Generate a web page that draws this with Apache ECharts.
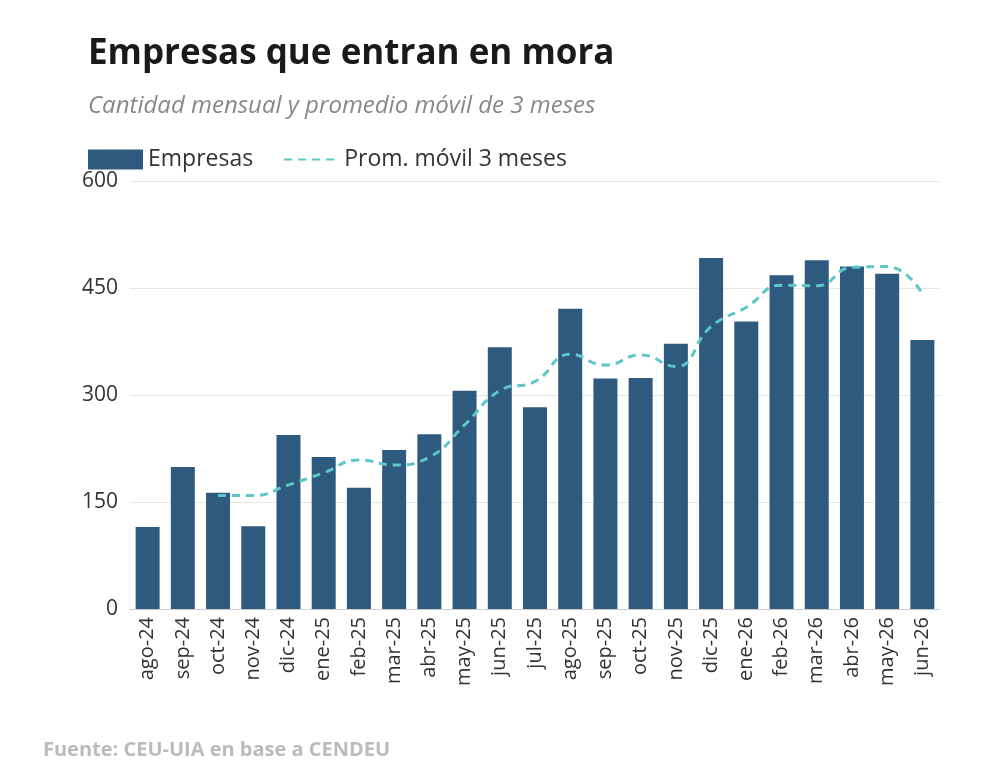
<!DOCTYPE html>
<html><head><meta charset="utf-8">
<script src="https://cdn.jsdelivr.net/npm/echarts@6/dist/echarts.min.js"></script>
<style>html,body{margin:0;background:#fff}#chart{width:992px;height:780px}</style>
</head><body><div id="chart"></div>
<script>
var meses = ["ago-24","sep-24","oct-24","nov-24","dic-24","ene-25","feb-25","mar-25","abr-25","may-25","jun-25","jul-25","ago-25","sep-25","oct-25","nov-25","dic-25","ene-26","feb-26","mar-26","abr-26","may-26","jun-26"];
var empresas = [115,199,163,116,244,213,170,223,245,306,367,283,421,323,324,372,492,403,468,489,480,470,377];
var promedio = [null,null,159,159,174,191,209,202,213,258,306,319,357,342,356,340,396,423,454,453,479,480,442];
var yTicks = [0,150,300,450,600];

var chart = echarts.init(document.getElementById("chart"));
var font = "Open Sans";
chart.setOption({
  textStyle: {fontFamily: font},
  title: [
    {text: "Empresas que entran en mora", left: 83, top: 32,
     textStyle: {fontSize: 35, fontWeight: "bold", color: "#1a1a1a", fontFamily: font}},
    {text: "Cantidad mensual y promedio móvil de 3 meses", left: 83, top: 89,
     textStyle: {fontSize: 24, fontStyle: "italic", fontWeight: "normal", color: "#888", fontFamily: font}},
    {text: "Fuente: CEU-UIA en base a CENDEU", left: 38, top: 735,
     textStyle: {fontSize: 20, fontWeight: "bold", color: "#bbb", fontFamily: font}}
  ],
  legend: {left: 83, top: 143, itemGap: 30, itemWidth: 55, itemHeight: 20,
    textStyle: {fontSize: 23, color: "#333"},
    data: [{name: "Empresas", icon: "rect"},
           {name: "Prom. móvil 3 meses", itemStyle: {opacity: 0}}]},
  grid: {left: 130, right: 52, top: 181, bottom: 171},
  xAxis: {type: "category", data: meses,
    axisTick: {show: false}, axisLine: {lineStyle: {color: "#ccc"}},
    axisLabel: {rotate: 90, fontSize: 20, color: "#333", interval: 0}},
  yAxis: {type: "value", min: 0, max: 600, interval: 150,
    axisLabel: {fontSize: 21, color: "#333", margin: 12,
      formatter: function (v) { return yTicks.indexOf(v) >= 0 ? v : ""; }},
    splitLine: {lineStyle: {color: "#e6e6e6"}}},
  series: [
    {name: "Empresas", type: "bar", data: empresas, barWidth: 24,
     itemStyle: {color: "#2f5a80"}},
    {name: "Prom. móvil 3 meses", type: "line", data: promedio, smooth: true,
     showSymbol: false, symbol: "none",
     lineStyle: {color: "#5cc6c8", width: 3, type: [8, 6]},
     itemStyle: {color: "#5cc6c8"}}
  ]
});
window.addEventListener("resize", chart.resize);
</script></body></html>
